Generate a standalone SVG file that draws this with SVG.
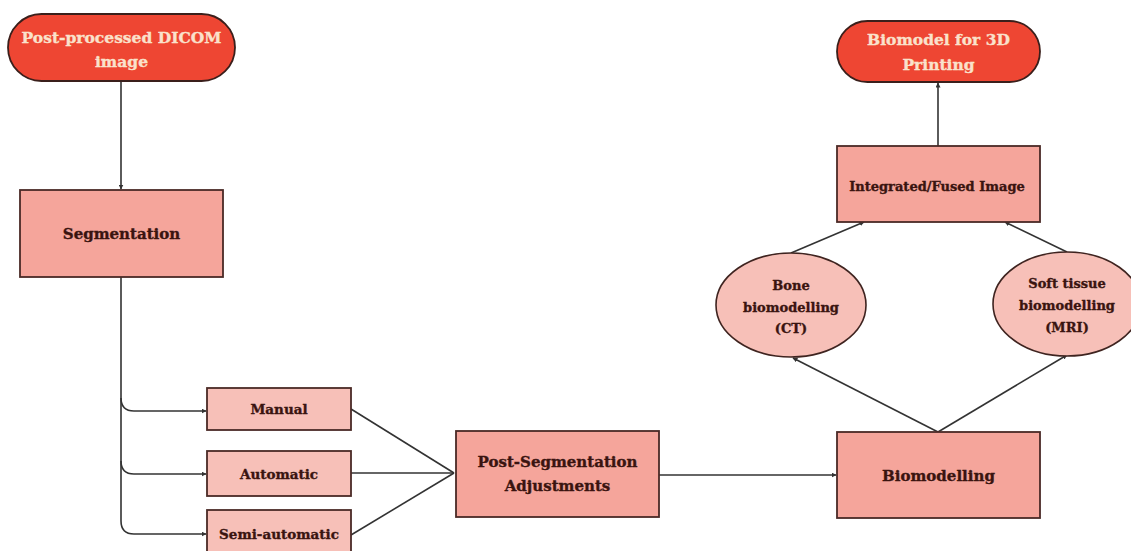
<svg xmlns="http://www.w3.org/2000/svg" width="1131" height="551" viewBox="0 0 1131 551">
<defs>
<style>
.pill{fill:#ee4633;stroke:#3a1f1b;stroke-width:1.8}
.box{fill:#f5a59b;stroke:#4a2a26;stroke-width:1.8}
.sub{fill:#f7c0b8;stroke:#4a2a26;stroke-width:1.8}
.ell{fill:#f7c0b8;stroke:#3f2420;stroke-width:1.6}
text{font-family:"DejaVu Serif","Liberation Serif",serif;font-weight:bold;text-anchor:middle;stroke-width:0.35}
.pt{fill:#fae2cc;stroke:#fae2cc;font-size:15.5px}
.bt{fill:#3a1410;stroke:#3a1410;font-size:15px}
.st{fill:#3a1410;stroke:#3a1410;font-size:13.5px}
.et{fill:#3a1410;stroke:#3a1410;font-size:13px}
.c{fill:none;stroke:#333;stroke-width:1.6}
</style>
<marker id="ah" viewBox="0 0 10 10" refX="9" refY="5" markerWidth="5" markerHeight="5" orient="auto" markerUnits="userSpaceOnUse">
<path d="M0,0 L10,5 L0,10 z" fill="#333"/>
</marker>
</defs>
<rect width="1131" height="551" fill="#fff"/>

<g id="connectors">
<path class="c" d="M121,81 V189" marker-end="url(#ah)"/>
<path class="c" d="M121,277 V398 Q121,411 134,411 H206" marker-end="url(#ah)"/>
<path class="c" d="M121,398 V461 Q121,474 134,474 H206" marker-end="url(#ah)"/>
<path class="c" d="M121,461 V521 Q121,534 134,534 H206" marker-end="url(#ah)"/>
<path class="c" d="M351,409 L454,473"/>
<path class="c" d="M351,473 L454,473"/>
<path class="c" d="M351,535 L454,473"/>
<path class="c" d="M659,475 H836" marker-end="url(#ah)"/>
<path class="c" d="M938,432 L793,358" marker-end="url(#ah)"/>
<path class="c" d="M938,432 L1067,355" marker-end="url(#ah)"/>
<path class="c" d="M791,253 L864,222" marker-end="url(#ah)"/>
<path class="c" d="M1067,252 L1005,222" marker-end="url(#ah)"/>
<path class="c" d="M938,146 V83" marker-end="url(#ah)"/>
</g>

<g id="dicom">
<rect class="pill" x="8" y="14" width="227" height="67" rx="33.5"/>
<text class="pt" x="121.5" y="43">Post-processed DICOM</text>
<text class="pt" x="121.5" y="67">image</text>
</g>

<g id="segmentation">
<rect class="box" x="20" y="190" width="203" height="87"/>
<text class="bt" x="121.5" y="239">Segmentation</text>
</g>

<g id="manual">
<rect class="sub" x="207" y="388" width="144" height="42"/>
<text class="st" x="279" y="414">Manual</text>
</g>

<g id="automatic">
<rect class="sub" x="207" y="451" width="144" height="45"/>
<text class="st" x="279" y="479">Automatic</text>
</g>

<g id="semi-automatic">
<rect class="sub" x="207" y="510" width="144" height="45"/>
<text class="st" x="279" y="539">Semi-automatic</text>
</g>

<g id="post-segmentation">
<rect class="box" x="456" y="431" width="203" height="86"/>
<text class="bt" x="557.5" y="467">Post-Segmentation</text>
<text class="bt" x="557.5" y="491">Adjustments</text>
</g>

<g id="biomodelling">
<rect class="box" x="837" y="432" width="203" height="86"/>
<text class="bt" x="938.5" y="481">Biomodelling</text>
</g>

<g id="bone">
<ellipse class="ell" cx="791" cy="305" rx="75" ry="52"/>
<text class="et" x="791" y="290">Bone</text>
<text class="et" x="791" y="312">biomodelling</text>
<text class="et" x="791" y="333">(CT)</text>
</g>

<g id="soft-tissue">
<ellipse class="ell" cx="1067" cy="304" rx="74" ry="52"/>
<text class="et" x="1067" y="288">Soft tissue</text>
<text class="et" x="1067" y="310">biomodelling</text>
<text class="et" x="1067" y="332">(MRI)</text>
</g>

<g id="integrated">
<rect class="box" x="837" y="146" width="203" height="76"/>
<text class="et" x="937" y="191">Integrated/Fused Image</text>
</g>

<g id="biomodel-3d">
<rect class="pill" x="837" y="21" width="203" height="61" rx="30.5"/>
<text class="pt" x="938.5" y="45">Biomodel for 3D</text>
<text class="pt" x="938.5" y="70">Printing</text>
</g>
</svg>
